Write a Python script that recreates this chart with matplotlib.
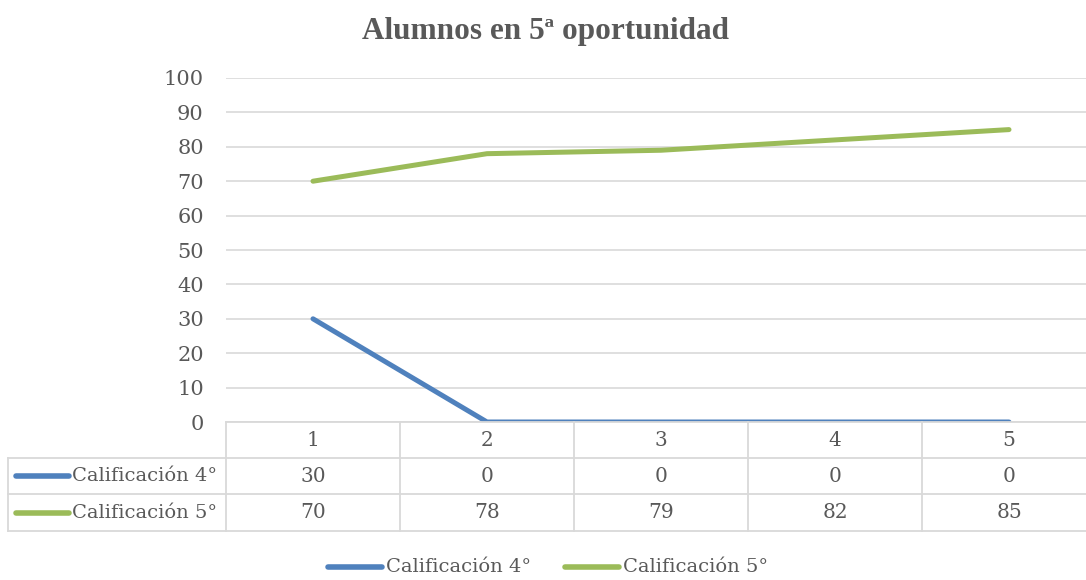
import matplotlib

matplotlib.use("Agg")
import matplotlib.pyplot as plt
from matplotlib import transforms
from matplotlib.lines import Line2D

# chart data
categories = ["1", "2", "3", "4", "5"]
series_names = ["Calificación 4°", "Calificación 5°"]
calif_4 = [30, 0, 0, 0, 0]
calif_5 = [70, 78, 79, 82, 85]
y_ticks = [0, 10, 20, 30, 40, 50, 60, 70, 80, 90, 100]
title = "Alumnos en 5ª oportunidad"

BLUE = "#4F81BD"
GREEN = "#9BBB59"
TEXT = "#595959"
GRID = "#D9D9D9"
W, H = 1086, 580


def fy(py):
    return 1 - py / H


def fx(px):
    return px / W


fig = plt.figure(figsize=(W / 100, H / 100), dpi=100)
ax = fig.add_axes([fx(226), fy(422), fx(1096) - fx(226), fy(78) - fy(422)])

x = list(range(1, len(categories) + 1))
for vals, color in [(calif_4, BLUE), (calif_5, GREEN)]:
    ax.plot(x, vals, color=color, lw=3.6, solid_capstyle="round", zorder=3)

ax.set_xlim(0.5, len(categories) + 0.5)
ax.set_ylim(0, 100)
ax.set_yticks(y_ticks)
ax.set_xticks([])
ax.grid(axis="y", color=GRID, lw=1.2)
for s in ax.spines.values():
    s.set_visible(False)
ax.tick_params(axis="y", length=0, pad=16, labelsize=15, labelcolor=TEXT)
for lab in ax.get_yticklabels():
    lab.set_fontfamily("DejaVu Serif")

fig.text(0.502, fy(32), title, ha="center", va="center", fontsize=22.5,
         fontweight="bold", family="Liberation Serif", color=TEXT)

# data table under the axis
tr = transforms.blended_transform_factory(ax.transData, fig.transFigure)
rows = [422, 458, 494, 531]
xr = len(categories) + 0.5


def hline(py, x0, x1, t=tr):
    fig.add_artist(Line2D([x0, x1], [fy(py), fy(py)], transform=t, color=GRID, lw=1.3))


hline(rows[0], 0.5, xr)
for py in rows[1:]:
    fig.add_artist(Line2D([fx(8), 1.01], [fy(py), fy(py)], transform=fig.transFigure,
                          color=GRID, lw=1.3))
fig.add_artist(Line2D([fx(8), fx(8)], [fy(rows[1]), fy(rows[3])], transform=fig.transFigure,
                      color=GRID, lw=1.3))
for i in range(len(categories) + 1):
    fig.add_artist(Line2D([i + 0.5, i + 0.5], [fy(rows[0]), fy(rows[3])], transform=tr,
                          color=GRID, lw=1.3))

cell_font = dict(ha="center", va="center", fontsize=14.5, family="DejaVu Serif", color=TEXT)
for xi, cat in zip(x, categories):
    fig.text(xi, fy((rows[0] + rows[1]) / 2), cat, transform=tr, **cell_font)
for r, (name, vals, color) in enumerate(zip(series_names, [calif_4, calif_5], [BLUE, GREEN])):
    yc = fy((rows[r + 1] + rows[r + 2]) / 2)
    for xi, v in zip(x, vals):
        fig.text(xi, yc, str(v), transform=tr, **cell_font)
    fig.add_artist(Line2D([fx(16), fx(69)], [yc, yc], transform=fig.transFigure,
                          color=color, lw=4, solid_capstyle="round"))
    fig.text(fx(72), yc, name, ha="left", va="center", fontsize=14,
             family="DejaVu Serif", color=TEXT)

# legend
leg_x = [328, 565]
for lx, name, color in zip(leg_x, series_names, [BLUE, GREEN]):
    fig.add_artist(Line2D([fx(lx), fx(lx + 54)], [fy(567), fy(567)], transform=fig.transFigure,
                          color=color, lw=4, solid_capstyle="round"))
    fig.text(fx(lx + 58), fy(567), name, ha="left", va="center", fontsize=14,
             family="DejaVu Serif", color=TEXT)

fig.savefig("out.png", dpi=100, facecolor="white")
